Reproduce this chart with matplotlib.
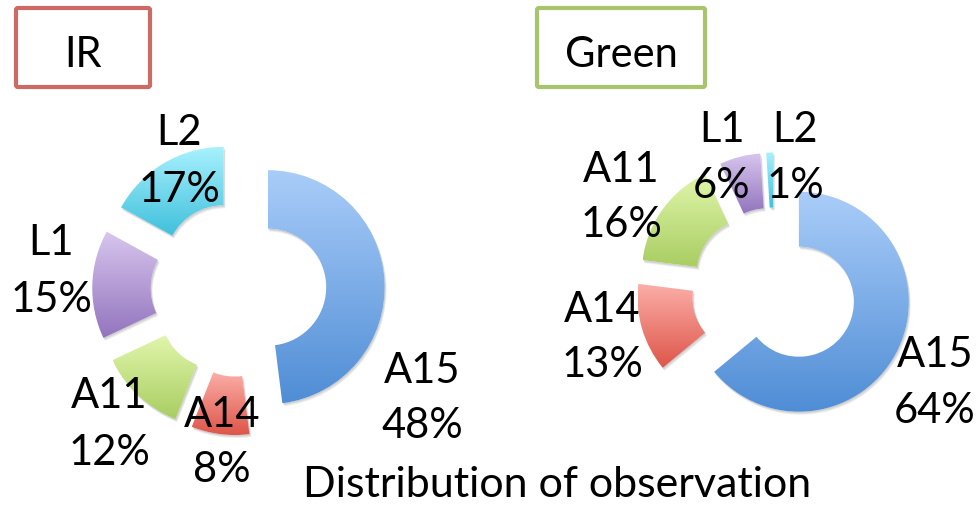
import matplotlib.pyplot as plt
import numpy as np
from matplotlib.patches import Wedge, FancyBboxPatch
from matplotlib.colors import LinearSegmentedColormap

plt.rcParams['font.family'] = ['Lato', 'DejaVu Sans']

# slices go clockwise from 12 o'clock in this order
categories = ['A15', 'A14', 'A11', 'L1', 'L2']
ir_values = [48, 8, 12, 15, 17]
green_values = [64, 13, 16, 6, 1]
title = 'Distribution of observation'

# light (top) -> dark (bottom) gradient for each slice
shades = {
    'A15': ('#aacdf9', '#4f8dd5'),
    'A14': ('#fbaea8', '#de5549'),
    'A11': ('#e0f6ab', '#a9cd62'),
    'L1': ('#d8c6ee', '#9274bd'),
    'L2': ('#a8f1fd', '#3fc0dc'),
}

W, H = 979, 505
EXPLODE = 0.25
HOLE = 0.5
FS = 30

fig = plt.figure(figsize=(W / 100, H / 100), dpi=100)
ax = fig.add_axes([0, 0, 1, 1])
ax.set_xlim(0, W)
ax.set_ylim(0, H)
ax.axis('off')


def donut(values, cx, cy, R):
    cy = H - cy
    total = sum(values)
    start = 0.0
    grad = np.linspace(0, 1, 256).reshape(-1, 1)
    for cat, v in zip(categories, values):
        t1 = start
        t2 = start + 360.0 * v / total
        start = t2
        mid = np.radians((t1 + t2) / 2)
        ox = cx + EXPLODE * R * np.sin(mid)
        oy = cy + EXPLODE * R * np.cos(mid)
        # soft drop shadow
        for k in (3, 2, 1):
            sh = Wedge((ox + k * 0.6, oy - k), R, 90 - t2, 90 - t1,
                       width=R * (1 - HOLE), facecolor='#000000',
                       edgecolor='none', alpha=0.07)
            ax.add_patch(sh)
        w = Wedge((ox, oy), R, 90 - t2, 90 - t1, width=R * (1 - HOLE),
                  facecolor='white', edgecolor='none')
        ax.add_patch(w)
        ext = w.get_path().get_extents()
        cmap = LinearSegmentedColormap.from_list(cat, shades[cat])
        im = ax.imshow(grad, cmap=cmap, origin='upper', aspect='auto',
                       extent=[ext.x0, ext.x1, ext.y0, ext.y1],
                       interpolation='bicubic', zorder=2)
        im.set_clip_path(w)


def label(x, y1, y2, name, pct):
    ax.text(x, H - y1, name, fontsize=FS, ha='center', va='baseline', zorder=5)
    ax.text(x, H - y2, f'{pct}%', fontsize=FS, ha='center', va='baseline', zorder=5)


def tag(x0, x1, text, color):
    box = FancyBboxPatch((x0, H - 87), x1 - x0, 79,
                         boxstyle='round,pad=0,rounding_size=2',
                         facecolor='white', edgecolor=color, linewidth=3)
    ax.add_patch(box)
    ax.text((x0 + x1) / 2, H - 67, text, fontsize=FS, ha='center', va='baseline')


donut(ir_values, 238.5, 289, 117)
donut(green_values, 774, 290, 110)

ir_pos = {'A15': (422, 383, 438), 'A14': (222, 427, 482), 'A11': (109, 408, 465),
          'L1': (51, 255, 312), 'L2': (179, 145, 202)}
green_pos = {'A15': (935, 367, 423), 'A14': (602, 322, 377), 'A11': (621, 182, 237),
             'L1': (722, 142, 198), 'L2': (795, 142, 198)}
for cat, v in zip(categories, ir_values):
    label(*ir_pos[cat], cat, v)
for cat, v in zip(categories, green_values):
    label(*green_pos[cat], cat, v)

tag(16, 150, 'IR', '#cd6a64')
tag(537, 705, 'Green', '#a8c46c')

ax.text(557, H - 497, title, fontsize=31, ha='center', va='baseline')

fig.savefig('out.png', dpi=100)
